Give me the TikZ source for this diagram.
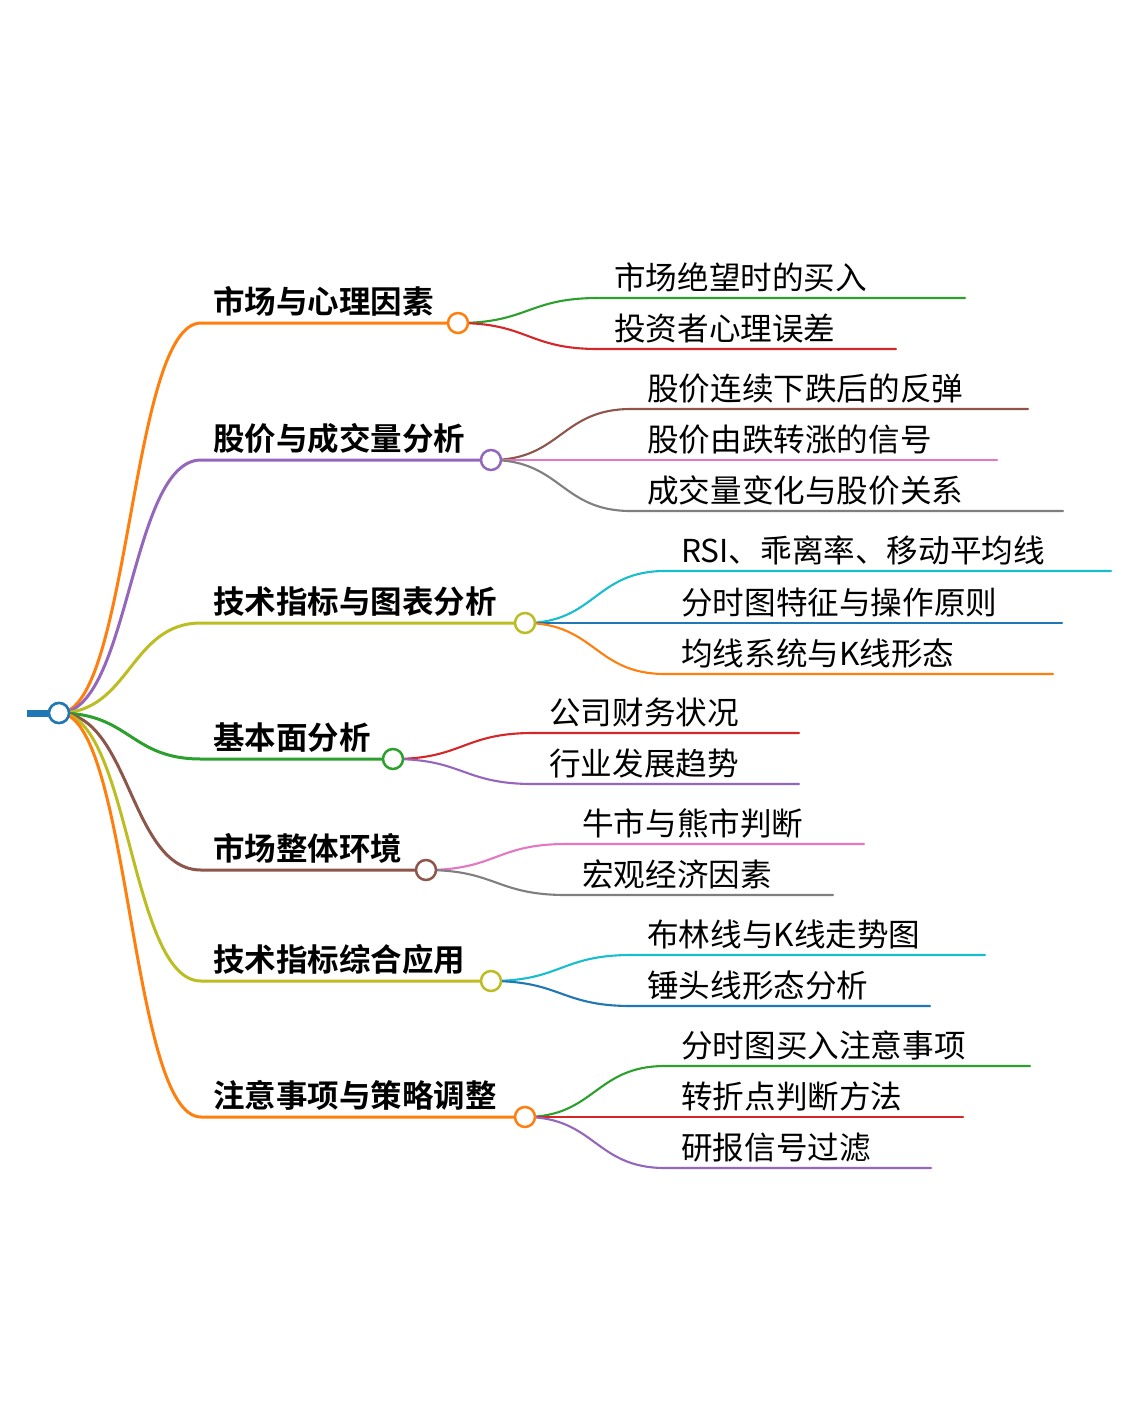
\documentclass[tikz,border=0pt]{standalone}
\usepackage{fontspec}
\setmainfont{Noto Sans CJK SC}[BoldFont={Noto Sans CJK SC Bold}]
\definecolor{cBlue}{HTML}{1F77B4}
\definecolor{cOrange}{HTML}{FF7F0E}
\definecolor{cGreen}{HTML}{2CA02C}
\definecolor{cRed}{HTML}{D62728}
\definecolor{cPurple}{HTML}{9467BD}
\definecolor{cBrown}{HTML}{8C564B}
\definecolor{cPink}{HTML}{E377C2}
\definecolor{cGray}{HTML}{7F7F7F}
\definecolor{cOlive}{HTML}{BCBD22}
\definecolor{cCyan}{HTML}{17BECF}
\tikzset{
  knot/.style={circle, fill=white, line width=2.5pt, minimum size=20pt, inner sep=0pt},
  lvlone/.style={anchor=base west, inner sep=0pt, font=\fontsize{31.5}{36}\selectfont\bfseries},
  lvltwo/.style={anchor=base west, inner sep=0pt, font=\fontsize{31.6}{36}\selectfont},
  linkone/.style={line width=3pt, line cap=round},
  linktwo/.style={line width=2.1pt, line cap=round}
}
\begin{document}
\begin{tikzpicture}[x=1pt,y=-1pt]
\useasboundingbox[fill=white] (0,0) rectangle (1137,1425);
\coordinate (rootstub) at (27,713);
\node[knot, draw=cBlue] (root) at (59,713) {};
% level 1 links
\foreach \i/\y/\cx/\col in {1/323/458/cOrange,2/460/491/cPurple,3/623/525/cOlive,4/759/393/cGreen,5/870/426/cBrown,6/981/491/cOlive,7/1117/525/cOrange}{
  \coordinate (s\i) at (201,\y);
  \draw[linkone, draw=\col] (root.center) .. controls (130,713) and (130,\y) .. (s\i) -- (\cx,\y);
}
% level 2 links and texts
\foreach \p/\py/\cx/\y/\ex/\col/\txt in {
1/323/458/298/965/cGreen/市场绝望时的买入,
1/323/458/349/896/cRed/投资者心理误差,
2/460/491/409/1028/cBrown/股价连续下跌后的反弹,
2/460/491/460/997/cPink/股价由跌转涨的信号,
2/460/491/511/1063/cGray/成交量变化与股价关系,
3/623/525/571/1111/cCyan/RSI、乖离率、移动平均线,
3/623/525/623/1062/cBlue/分时图特征与操作原则,
3/623/525/674/1053/cOrange/均线系统与K线形态,
4/759/393/733/799/cRed/公司财务状况,
4/759/393/784/799/cPurple/行业发展趋势,
5/870/426/844/864/cPink/牛市与熊市判断,
5/870/426/895/833/cGray/宏观经济因素,
6/981/491/955/985/cCyan/布林线与K线走势图,
6/981/491/1006/930/cBlue/锤头线形态分析,
7/1117/525/1066/1030/cGreen/分时图买入注意事项,
7/1117/525/1117/963/cRed/转折点判断方法,
7/1117/525/1168/931/cPurple/研报信号过滤}{
  \coordinate (u\p-\y) at ({\cx+140},\y);
  \coordinate (e\p-\y) at (\ex,\y);
  \draw[linktwo, draw=\col] (\cx,\py) .. controls ({\cx+70},\py) and ({\cx+70},\y) .. (u\p-\y) -- (e\p-\y);
  \node[lvltwo] (t\p-\y) at ({\cx+156},{\y-9}) {\txt};
}
% root stub
\draw[line width=7pt, draw=cBlue] (rootstub) -- (root.west);
\node[knot, draw=cBlue] at (root) {};
% level 1 circles and texts
\foreach \i/\y/\cx/\col/\txt in {1/323/458/cOrange/市场与心理因素,2/460/491/cPurple/股价与成交量分析,3/623/525/cOlive/技术指标与图表分析,4/759/393/cGreen/基本面分析,5/870/426/cBrown/市场整体环境,6/981/491/cOlive/技术指标综合应用,7/1117/525/cOrange/注意事项与策略调整}{
  \node[knot, draw=\col] (c\i) at (\cx,\y) {};
  \node[lvlone] (h\i) at (213,{\y-10}) {\txt};
}
\end{tikzpicture}
\end{document}
